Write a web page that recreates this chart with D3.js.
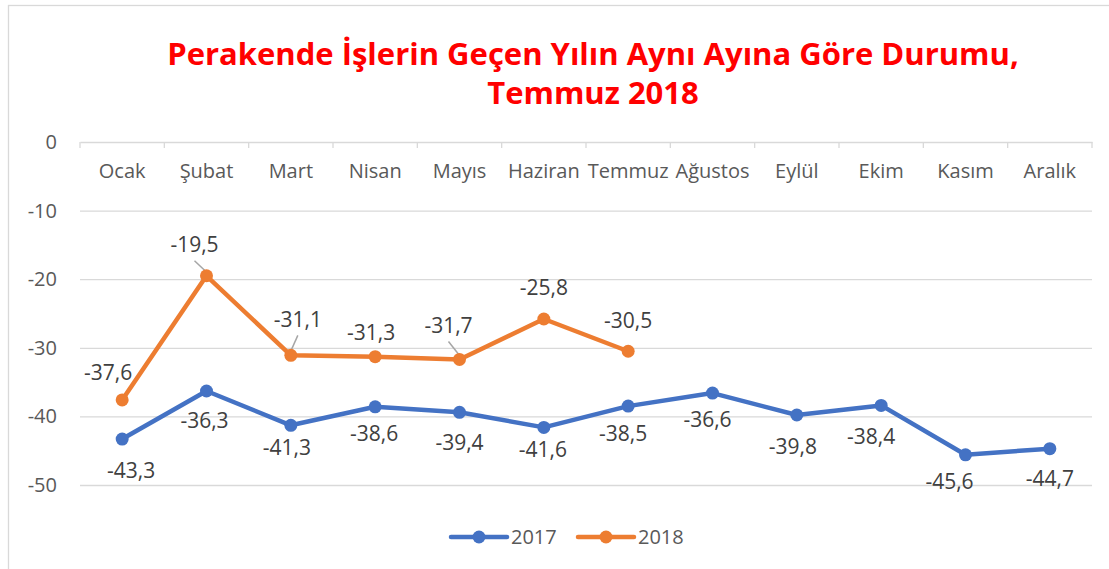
<!DOCTYPE html>
<html>
<head>
<meta charset="utf-8">
<script src="https://cdn.jsdelivr.net/npm/d3@7"></script>
<style>
  body { margin: 0; background: #fff; }
  svg { display: block; font-family: "Open Sans", sans-serif; }
</style>
</head>
<body>
<svg id="chart" width="1109" height="569"></svg>
<script>
var months = ['Ocak', 'Şubat', 'Mart', 'Nisan', 'Mayıs', 'Haziran', 'Temmuz', 'Ağustos', 'Eylül', 'Ekim', 'Kasım', 'Aralık'];
var values2017 = [-43.3, -36.3, -41.3, -38.6, -39.4, -41.6, -38.5, -36.6, -39.8, -38.4, -45.6, -44.7];
var values2018 = [-37.6, -19.5, -31.1, -31.3, -31.7, -25.8, -30.5];
var yTicks = [0, -10, -20, -30, -40, -50];
var titleLines = ['Perakende İşlerin Geçen Yılın Aynı Ayına Göre Durumu,', 'Temmuz 2018'];

// hand-placed data label offsets (px) from each marker, as in the original
var labelDx2017 = [9, -2, -4, -1, 0, -1, -5, -5, -4, -10, -16, 0];
var labelDy2017 = [32, 30, 22, 27, 30, 22, 28, 27, 32, 31, 27, 30];
var labelDx2018 = [-14, -12, 7, -4, -11, 0, 0];
var labelDy2018 = [-27, -31, -36, -24, -34, -31, -31];

var series = [
    { name: '2017', values: values2017, color: '#4472c4', dx: labelDx2017, dy: labelDy2017 },
    { name: '2018', values: values2018, color: '#ed7d31', dx: labelDx2018, dy: labelDy2018 }
];

var svg = d3.select('#chart'),
    plotL = 80, plotR = 1092, plotT = 142, plotB = 485;

// outer chart border
svg.append('rect')
    .attr('x', 8.5).attr('y', 5.5)
    .attr('width', 1120).attr('height', 580)
    .attr('fill', 'none').attr('stroke', '#d9d9d9').attr('stroke-width', 1.3);

svg.selectAll('text.title')
    .data(titleLines)
    .enter().append('text')
    .attr('class', 'title')
    .attr('x', 593)
    .attr('y', (d, i) => 65 + i * 39)
    .attr('text-anchor', 'middle')
    .attr('fill', '#ff0000')
    .attr('font-weight', 700)
    .attr('font-size', 31)
    .text(d => d);

var x = d3.scaleBand().domain(months).range([plotL, plotR]);
var y = d3.scaleLinear().domain([-50, 0]).range([plotB, plotT]);
var cx = (d, i) => x(months[i]) + x.bandwidth() / 2;

// gridlines
svg.append('g')
    .attr('transform', 'translate(' + plotL + ',0)')
    .call(d3.axisLeft(y).tickValues(yTicks.filter(v => v != 0)).tickSize(-(plotR - plotL)).tickFormat(''))
    .call(g => g.select('.domain').remove())
    .selectAll('line').attr('stroke', '#d9d9d9').attr('stroke-width', 1.3);

// y labels
svg.append('g')
    .attr('transform', 'translate(' + plotL + ',0)')
    .call(d3.axisLeft(y).tickValues(yTicks).tickSize(0).tickPadding(23).tickFormat(d => String(d)))
    .call(g => g.select('.domain').remove())
    .selectAll('text')
    .attr('font-family', '"Open Sans", sans-serif')
    .attr('font-size', 20)
    .attr('fill', '#595959');

// category axis at zero
var xAxis = svg.append('g')
    .attr('transform', 'translate(0,' + y(0) + ')')
    .call(d3.axisBottom(x).tickSize(0).tickPadding(22));
xAxis.select('.domain').attr('stroke', '#d9d9d9').attr('stroke-width', 1.3);
xAxis.selectAll('text')
    .attr('font-family', '"Open Sans", sans-serif')
    .attr('font-size', 20)
    .attr('fill', '#595959');
xAxis.selectAll('line.bound')
    .data(d3.range(months.length + 1))
    .enter().append('line')
    .attr('class', 'bound')
    .attr('x1', i => plotL + i * x.step()).attr('x2', i => plotL + i * x.step())
    .attr('y1', 0).attr('y2', 6)
    .attr('stroke', '#d9d9d9').attr('stroke-width', 1.3);

var line = d3.line().x(cx).y(d => y(d));

series.forEach(function (s) {
    var g = svg.append('g');
    // leader lines for labels pulled far above their marker
    var leaders = s.values.map((v, i) => ({ v: v, i: i }))
        .filter(p => s.dy[p.i] < 0 && Math.hypot(s.dx[p.i], s.dy[p.i]) > 33);
    g.selectAll('line.leader')
        .data(leaders)
        .enter().append('line')
        .attr('class', 'leader')
        .attr('x1', p => cx(p.v, p.i) + s.dx[p.i])
        .attr('y1', p => y(p.v) + s.dy[p.i] + 16)
        .attr('x2', p => cx(p.v, p.i) - s.dx[p.i] * 0.15)
        .attr('y2', p => y(p.v) - 2)
        .attr('stroke', '#a6a6a6').attr('stroke-width', 1.5);
    g.append('path')
        .datum(s.values)
        .attr('d', line)
        .attr('fill', 'none')
        .attr('stroke', s.color)
        .attr('stroke-width', 4.5)
        .attr('stroke-linejoin', 'round');
    g.selectAll('circle')
        .data(s.values)
        .enter().append('circle')
        .attr('cx', cx).attr('cy', d => y(d))
        .attr('r', 6.5)
        .attr('fill', s.color);
    g.selectAll('text')
        .data(s.values)
        .enter().append('text')
        .attr('x', (d, i) => cx(d, i) + s.dx[i])
        .attr('y', (d, i) => y(d) + s.dy[i])
        .attr('dy', '0.35em')
        .attr('text-anchor', 'middle')
        .attr('font-size', 21)
        .attr('fill', '#404040')
        .text(d => d.toFixed(1).replace('.', ','));
});

// legend
var legend = svg.append('g').attr('transform', 'translate(451,537)');
var item = legend.selectAll('g')
    .data(series)
    .enter().append('g')
    .attr('transform', (d, i) => 'translate(' + i * 127 + ',0)');
item.append('line')
    .attr('x1', 0).attr('x2', 56)
    .attr('stroke', d => d.color).attr('stroke-width', 4.5).attr('stroke-linecap', 'round');
item.append('circle')
    .attr('cx', 28).attr('r', 6.5)
    .attr('fill', d => d.color);
item.append('text')
    .attr('x', 60).attr('dy', '0.35em')
    .attr('font-size', 20)
    .attr('fill', '#595959')
    .text(d => d.name);
</script>
</body>
</html>
